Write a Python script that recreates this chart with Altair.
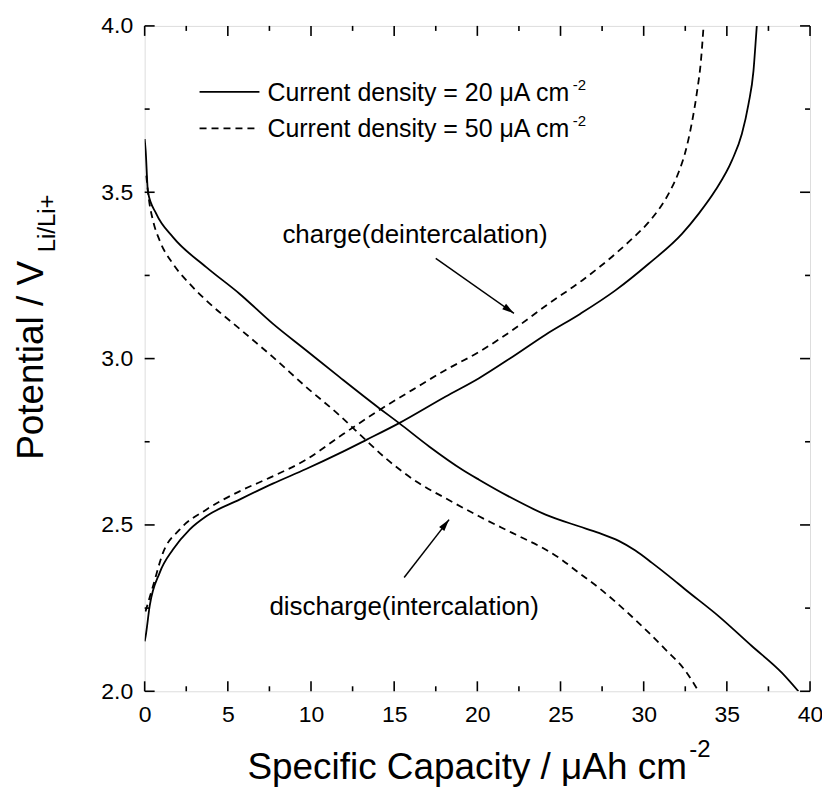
import math
import altair as alt
import pandas as pd

FONT = "Liberation Sans"
W = 667
H = 667
X_DOMAIN = [0, 40]
Y_DOMAIN = [2.0, 4.0]

# ---- data ----
# discharge, 20 uA cm-2 (solid)
dis20_x = [0.0, 0.06, 0.2, 0.7, 1.7, 3.7, 5.7, 7.7, 9.7, 11.7, 14.1, 15.3, 17.1, 19.1, 20.1,
           22.1, 24.1, 26.1, 27.3, 28.5, 29.5, 30.5, 31.5, 32.5, 34.5, 36.5, 38.3, 39.3]
dis20_v = [3.66, 3.625, 3.50, 3.435, 3.365, 3.275, 3.195, 3.105, 3.025, 2.945, 2.851, 2.806, 2.736, 2.666, 2.636,
           2.58, 2.531, 2.496, 2.476, 2.452, 2.423, 2.386, 2.347, 2.306, 2.226, 2.136, 2.056, 2.0]
# charge, 20 uA cm-2 (solid)
ch20_x = [0.0, 0.06, 0.3, 0.9, 1.7, 2.7, 3.7, 5.7, 7.7, 9.7, 11.7, 13.3, 15.3, 18.1, 20.1, 22.1,
          24.1, 26.2, 28.3, 30.3, 32.3, 33.3, 34.3, 35.3, 35.9, 36.3, 36.6, 36.75, 36.8]
ch20_v = [2.15, 2.166, 2.256, 2.356, 2.426, 2.486, 2.526, 2.576, 2.624, 2.668, 2.715, 2.755, 2.806, 2.886, 2.941, 3.005,
          3.072, 3.135, 3.205, 3.285, 3.375, 3.435, 3.505, 3.595, 3.675, 3.765, 3.865, 3.965, 4.0]
# discharge, 50 uA cm-2 (dashed)
dis50_x = [0.1, 0.25, 0.5, 0.9, 1.7, 2.7, 3.7, 5.7, 7.7, 9.7, 11.7, 13.3, 14.5, 15.5, 16.5, 18.1,
           20.1, 22.1, 24.1, 25.0, 26.0, 27.3, 29.3, 31.3, 32.5, 33.3]
dis50_v = [3.55, 3.48, 3.415, 3.355, 3.285, 3.225, 3.175, 3.09, 3.005, 2.915, 2.83, 2.755, 2.70, 2.66, 2.625, 2.58,
           2.526, 2.476, 2.426, 2.398, 2.36, 2.311, 2.224, 2.126, 2.062, 2.0]
# charge, 50 uA cm-2 (dashed)
ch50_x = [0.05, 0.5, 1.1, 2.1, 3.7, 5.7, 7.7, 9.7, 11.7, 14.1, 16.1, 18.1, 20.1, 22.1, 24.2,
          26.3, 28.3, 29.3, 30.3, 31.0, 31.6, 32.1, 32.5, 32.9, 33.2, 33.45, 33.6]
ch50_v = [2.24, 2.316, 2.416, 2.486, 2.546, 2.601, 2.646, 2.696, 2.765, 2.845, 2.906, 2.966, 3.020, 3.085, 3.162,
          3.235, 3.315, 3.36, 3.41, 3.455, 3.505, 3.56, 3.62, 3.71, 3.80, 3.90, 4.0]

x_major = [0, 5, 10, 15, 20, 25, 30, 35, 40]
x_minor = [2.5, 7.5, 12.5, 17.5, 22.5, 27.5, 32.5, 37.5]
y_major = [2.0, 2.5, 3.0, 3.5, 4.0]
y_minor = [2.25, 2.75, 3.25, 3.75]

legend_labels = ["Current density = 20 \u03bcA cm", "Current density = 50 \u03bcA cm"]
charge_label = "charge(deintercalation)"
discharge_label = "discharge(intercalation)"

# annotation layout (data coordinates)
legend_line_x = (3.3, 6.9)
legend_text_x = 7.38
legend_rows_v = [3.775, 3.665]
arrow_tail = [(17.5, 3.301), (15.6, 2.342)]
arrow_head = [(22.2, 3.136), (18.3, 2.516)]


def frame(xs, vs, name):
    return pd.DataFrame({"x": xs, "v": vs, "series": name, "i": list(range(len(xs)))})


xs = alt.Scale(domain=X_DOMAIN, nice=False, zero=False)
ys = alt.Scale(domain=Y_DOMAIN, nice=False, zero=False)

solid_df = pd.concat([frame(dis20_x, dis20_v, "d20"), frame(ch20_x, ch20_v, "c20")])
dashed_df = pd.concat([frame(dis50_x, dis50_v, "d50"), frame(ch50_x, ch50_v, "c50")])

x_axis = alt.Axis(values=x_major, format="d", ticks=False, tickSize=0, domain=False, grid=False,
                  labelPadding=12, labelFontSize=23, labelFont=FONT, labelColor="black",
                  title=None, labelFlush=False)
y_axis = alt.Axis(values=y_major, format=".1f", ticks=False, tickSize=0, domain=False, grid=False,
                  labelPadding=12, labelFontSize=23, labelFont=FONT, labelColor="black",
                  title=None, labelFlush=False)


def X(field):
    return alt.X(field, scale=xs, axis=x_axis)


def Y(field):
    return alt.Y(field, scale=ys, axis=y_axis)


solid = alt.Chart(solid_df).mark_line(color="black", strokeWidth=1.8, clip=True,
                                      interpolate="monotone").encode(
    x=X("x:Q"), y=Y("v:Q"), detail="series:N", order="i:Q")
dashed = alt.Chart(dashed_df).mark_line(color="black", strokeWidth=1.8, strokeDash=[7, 5], clip=True,
                                        interpolate="monotone").encode(
    x=X("x:Q"), y=Y("v:Q"), detail="series:N", order="i:Q")


# ---- inward ticks on all four sides ----
def xticks(vals, length, top):
    d = pd.DataFrame({"t": vals})
    y0, y1 = (0, length) if top else (H, H - length)
    return alt.Chart(d).mark_rule(color="black", strokeWidth=1.6).encode(
        x=X("t:Q"), y=alt.value(y0), y2=alt.value(y1))


def yticks(vals, length, right):
    d = pd.DataFrame({"t": vals})
    x0, x1 = (W, W - length) if right else (0, length)
    return alt.Chart(d).mark_rule(color="black", strokeWidth=1.6).encode(
        y=Y("t:Q"), x=alt.value(x0), x2=alt.value(x1))


ticks = [xticks(x_major, 10, False), xticks(x_minor, 5, False), xticks(x_major, 10, True), xticks(x_minor, 5, True),
         yticks(y_major, 10, False), yticks(y_minor, 5, False), yticks(y_major, 10, True), yticks(y_minor, 5, True)]

# ---- legend ----
leg_df = pd.DataFrame({"x": [legend_line_x[0]] * 2, "x2": [legend_line_x[1]] * 2,
                       "v": [r + 0.027 for r in legend_rows_v], "lab": legend_labels,
                       "tx": [legend_text_x] * 2, "tv": legend_rows_v})
leg_solid = alt.Chart(leg_df.iloc[[0]]).mark_rule(color="black", strokeWidth=1.8).encode(
    x=X("x:Q"), x2="x2:Q", y=Y("v:Q"))
leg_dashed = alt.Chart(leg_df.iloc[[1]]).mark_rule(color="black", strokeWidth=1.8, strokeDash=[7, 5]).encode(
    x=X("x:Q"), x2="x2:Q", y=Y("v:Q"))
leg_text = alt.Chart(leg_df).mark_text(font=FONT, fontSize=25, align="left", baseline="alphabetic",
                                       color="black").encode(
    x=X("tx:Q"), y=Y("tv:Q"), text="lab:N")
leg_sup = alt.Chart(leg_df).mark_text(font=FONT, fontSize=15, align="left", baseline="alphabetic",
                                      color="black", dx=306, dy=-11).encode(
    x=X("tx:Q"), y=Y("tv:Q"), text=alt.value("-2"))

# ---- annotations ----
ann_df = pd.DataFrame({"x": [8.28, 7.5], "v": [3.370, 2.252], "lab": [charge_label, discharge_label]})
ann_text = alt.Chart(ann_df).mark_text(font=FONT, fontSize=26, align="left", baseline="middle",
                                       color="black").encode(
    x=X("x:Q"), y=Y("v:Q"), text="lab:N")

arr_rows = []
for (tx, tv), (hx, hv) in zip(arrow_tail, arrow_head):
    dxp = (hx - tx) * W / (X_DOMAIN[1] - X_DOMAIN[0])
    dyp = -(hv - tv) * H / (Y_DOMAIN[1] - Y_DOMAIN[0])
    ang = math.degrees(math.atan2(dxp, -dyp)) % 360
    arr_rows.append({"x": tx, "v": tv, "x2": hx, "v2": hv, "ang": ang})
arr_df = pd.DataFrame(arr_rows)
arr_line = alt.Chart(arr_df).mark_rule(color="black", strokeWidth=1.5).encode(
    x=X("x:Q"), y=Y("v:Q"), x2="x2:Q", y2="v2:Q")
arr_head = alt.Chart(arr_df).mark_point(shape="M0,0L-0.55,2L0.55,2Z", filled=True, color="black",
                                        size=144, opacity=1, strokeWidth=0).encode(
    x=X("x2:Q"), y=Y("v2:Q"), angle=alt.Angle("ang:Q", scale=None))

# ---- axis titles ----
title_df = pd.DataFrame({"a": [0]})
x_title = alt.Chart(title_df).mark_text(font=FONT, fontSize=37, align="left", baseline="alphabetic",
                                        color="black", text="Specific Capacity / \u03bcAh cm").encode(
    x=alt.value(103), y=alt.value(755))
x_title_sup = alt.Chart(title_df).mark_text(font=FONT, fontSize=24, align="left", baseline="alphabetic",
                                            color="black", text="-2").encode(
    x=alt.value(546), y=alt.value(733))
y_title = alt.Chart(title_df).mark_text(font=FONT, fontSize=37, align="left", baseline="alphabetic",
                                        color="black", angle=270, text="Potential / V").encode(
    x=alt.value(-102), y=alt.value(435))
y_title_sub = alt.Chart(title_df).mark_text(font=FONT, fontSize=24, align="left", baseline="alphabetic",
                                            color="black", angle=270, text="Li/Li+").encode(
    x=alt.value(-90), y=alt.value(227))

chart = alt.layer(
    solid, dashed, *ticks, leg_solid, leg_dashed, leg_text, leg_sup, ann_text, arr_line, arr_head,
    x_title, x_title_sup, y_title, y_title_sub,
).properties(
    width=W, height=H,
    autosize=alt.AutoSizeParams(type="none"),
    padding={"left": 137, "top": 17, "right": 12, "bottom": 95},
).configure_view(
    stroke="black", strokeWidth=2,
).configure(background="white")

chart.save("out.html", embed_options={"renderer": "svg", "actions": False})
